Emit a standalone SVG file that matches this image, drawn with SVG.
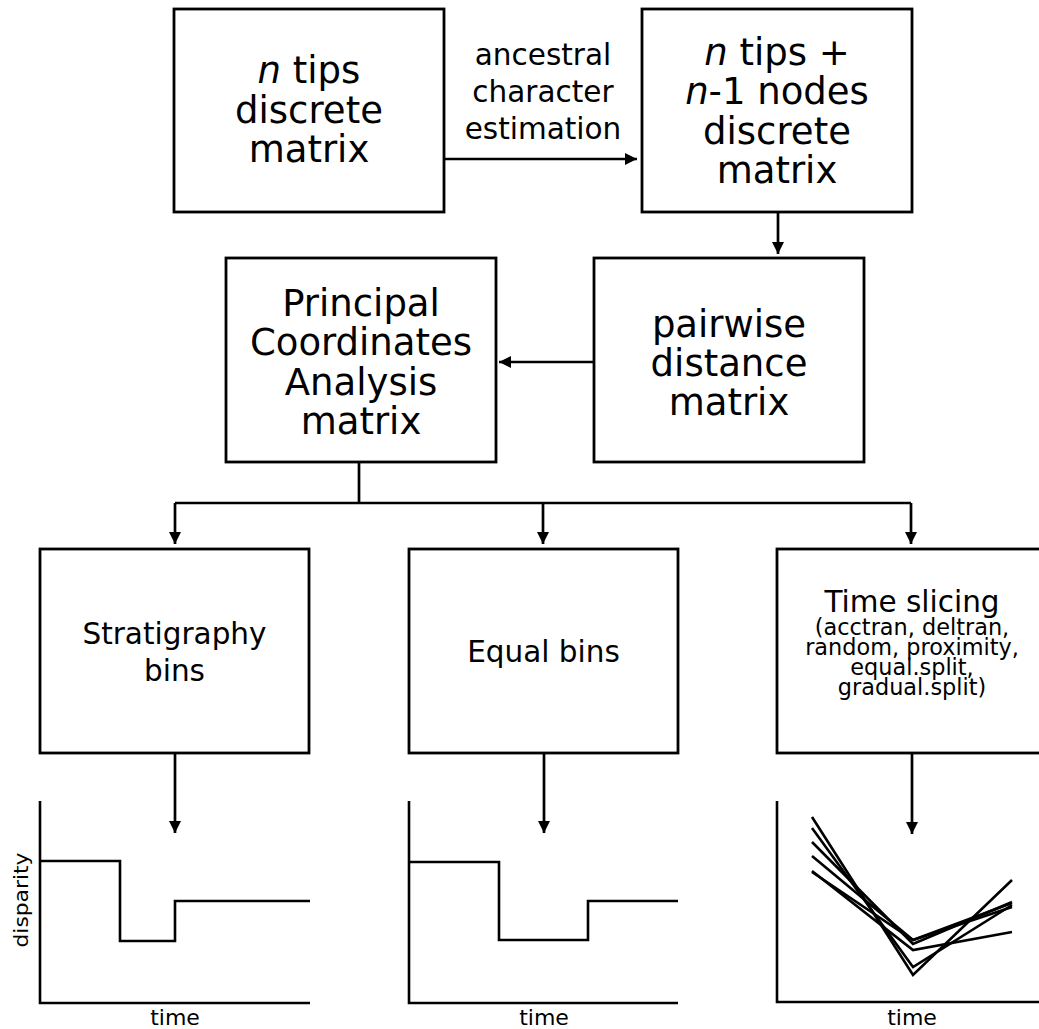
<svg xmlns="http://www.w3.org/2000/svg" width="1039" height="1029" viewBox="0 0 1039 1029">
<style>
.box{fill:#fff;stroke:#000;stroke-width:2.8}
.ln{fill:none;stroke:#000;stroke-width:2.7}
.pl{fill:none;stroke:#000;stroke-width:2.6;stroke-linejoin:miter}
text{font-family:"DejaVu Sans",sans-serif;fill:#000;text-anchor:middle}
.big{font-size:37px}
.mid{font-size:29.5px}
.sm{font-size:22.4px}
.ax{font-size:22px}
</style>
<defs>
<marker id="ah" viewBox="0 0 12 12" refX="12" refY="6" markerWidth="12" markerHeight="12" markerUnits="userSpaceOnUse" orient="auto">
<path d="M0,0 L12,6 L0,12 Z" fill="#000"/>
</marker>
</defs>
<rect width="1039" height="1029" fill="#fff"/>

<g id="connectors">
<path class="ln" d="M444,159 H637" marker-end="url(#ah)"/>
<text class="mid" x="543" y="65"><tspan x="543" y="65">ancestral</tspan><tspan x="543" dy="37.2">character</tspan><tspan x="543" dy="37.2">estimation</tspan></text>
<path class="ln" d="M778,212 V254" marker-end="url(#ah)"/>
<path class="ln" d="M594,362 H499" marker-end="url(#ah)"/>
<path class="ln" d="M359,462 V503"/>
<path class="ln" d="M175,503 H911"/>
<path class="ln" d="M175,503 V544" marker-end="url(#ah)"/>
<path class="ln" d="M543,503 V544" marker-end="url(#ah)"/>
<path class="ln" d="M911,503 V544" marker-end="url(#ah)"/>
<path class="ln" d="M175,753 V833" marker-end="url(#ah)"/>
<path class="ln" d="M544,753 V833" marker-end="url(#ah)"/>
<path class="ln" d="M912,753 V834" marker-end="url(#ah)"/>
</g>

<g id="n-tips">
<rect class="box" x="174" y="9" width="270" height="203"/>
<text class="big"><tspan x="309" y="83.3"><tspan font-style="italic">n</tspan> tips</tspan><tspan x="309" dy="39.2">discrete</tspan><tspan x="309" dy="39.2">matrix</tspan></text>
</g>

<g id="n-tips-nodes">
<rect class="box" x="642" y="9" width="270" height="203"/>
<text class="big"><tspan x="777" y="65"><tspan font-style="italic">n</tspan> tips +</tspan><tspan x="777" dy="39.3"><tspan font-style="italic">n</tspan>-1 nodes</tspan><tspan x="777" dy="39.3">discrete</tspan><tspan x="777" dy="39.3">matrix</tspan></text>
</g>

<g id="pairwise">
<rect class="box" x="594" y="258" width="270" height="204"/>
<text class="big"><tspan x="729" y="337">pairwise</tspan><tspan x="729" dy="39">distance</tspan><tspan x="729" dy="39">matrix</tspan></text>
</g>

<g id="pcoa">
<rect class="box" x="226" y="258" width="270" height="204"/>
<text class="big"><tspan x="361" y="316">Principal</tspan><tspan x="361" dy="39.3">Coordinates</tspan><tspan x="361" dy="39.3">Analysis</tspan><tspan x="361" dy="39.3">matrix</tspan></text>
</g>

<g id="strat">
<rect class="box" x="40" y="549" width="269" height="204"/>
<text class="mid"><tspan x="174.5" y="644">Stratigraphy</tspan><tspan x="174.5" dy="37">bins</tspan></text>
</g>

<g id="equal">
<rect class="box" x="409" y="549" width="269" height="204"/>
<text class="mid" x="543.5" y="662">Equal bins</text>
</g>

<g id="slicing">
<rect class="box" x="777" y="549" width="270" height="204"/>
<text class="mid" x="912" y="612">Time slicing</text>
<text class="sm"><tspan x="912" y="635">(acctran, deltran,</tspan><tspan x="912" dy="20">random, proximity,</tspan><tspan x="912" dy="20">equal.split,</tspan><tspan x="912" dy="20">gradual.split)</tspan></text>
</g>

<g id="plot-strat">
<path class="pl" d="M40,801 V1003 H310"/>
<path class="pl" d="M40,861 H120 V941 H175 V901 H310"/>
<text class="ax" x="175" y="1025">time</text>
<text font-size="19" transform="translate(28,900) rotate(-90)" textLength="95" lengthAdjust="spacingAndGlyphs">disparity</text>
</g>

<g id="plot-equal">
<path class="pl" d="M409,801 V1003 H678"/>
<path class="pl" d="M409,862 H499 V940 H588 V901 H678"/>
<text class="ax" x="544" y="1025">time</text>
</g>

<g id="plot-slice">
<path class="pl" d="M777,801 V1002 H1045"/>
<path class="pl" d="M812,817 L913,975 L1012,880"/>
<path class="pl" d="M812,828 L913,967 L1012,905"/>
<path class="pl" d="M812,842 L913,944 L1012,902"/>
<path class="pl" d="M812,856 L913,940 L1012,907"/>
<path class="pl" d="M812,871 L913,950 L1012,932"/>
<path class="pl" d="M812,872 L913,940 L1012,903"/>
<text class="ax" x="912" y="1025">time</text>
</g>
</svg>
